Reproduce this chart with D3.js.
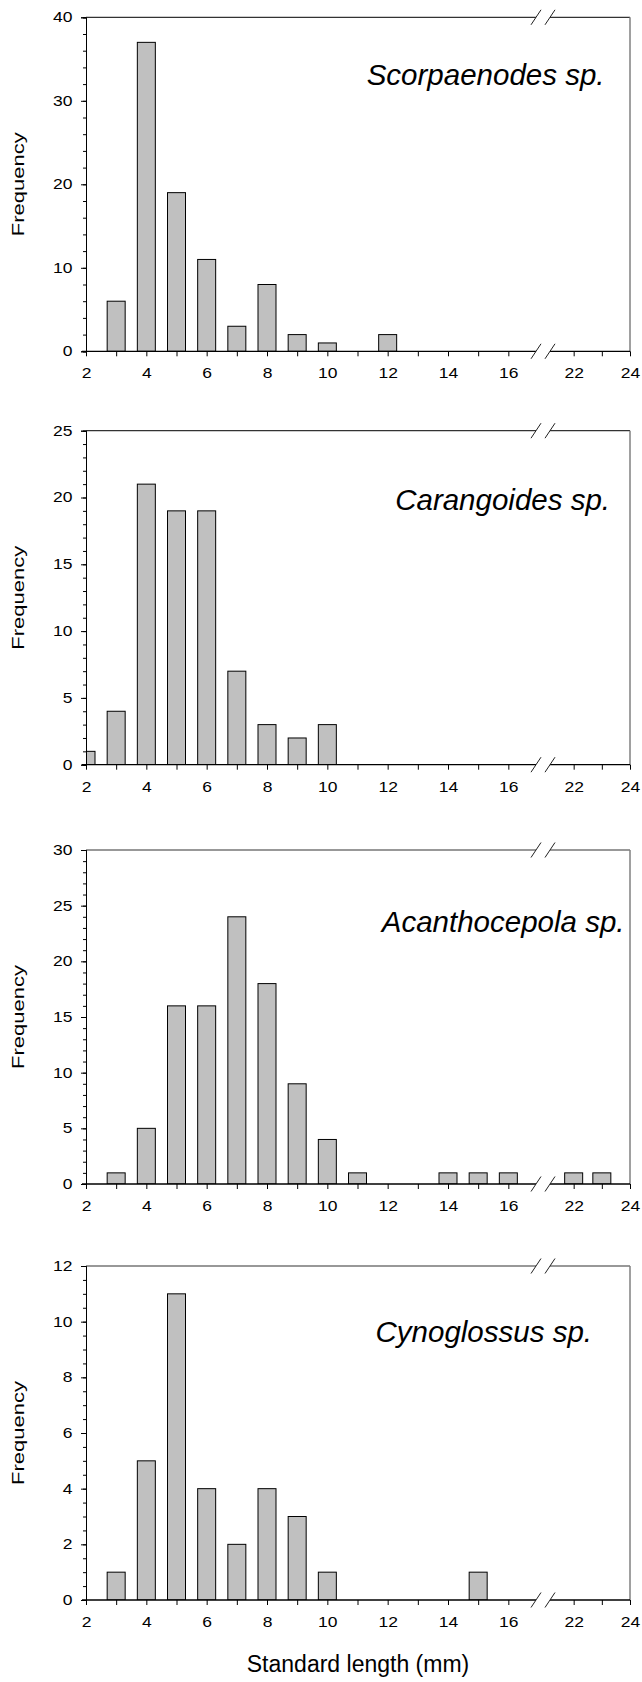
<!DOCTYPE html>
<html>
<head>
<meta charset="utf-8">
<script src="https://cdn.jsdelivr.net/npm/d3@7"></script>
<style>
  body { margin: 0; background: #fff; }
  svg { display: block; }
  text { font-family: "Liberation Sans", Arial, sans-serif; fill: #000; }
</style>
</head>
<body>
<svg id="chart" width="642" height="1682"></svg>
<script>
/* ---- data ---- */
const species = ["Scorpaenodes sp.", "Carangoides sp.", "Acanthocepola sp.", "Cynoglossus sp."];

const scorpLength = [3, 4, 5, 6, 7, 8, 9, 10, 12];
const scorpCount  = [6, 37, 19, 11, 3, 8, 2, 1, 2];

const caranLength = [2, 3, 4, 5, 6, 7, 8, 9, 10];
const caranCount  = [1, 4, 21, 19, 19, 7, 3, 2, 3];

const acanLength = [3, 4, 5, 6, 7, 8, 9, 10, 11, 14, 15, 16, 22, 23];
const acanCount  = [1, 5, 16, 16, 24, 18, 9, 4, 1, 1, 1, 1, 1, 1];

const cynoLength = [3, 4, 5, 6, 7, 8, 9, 10, 15];
const cynoCount  = [1, 5, 11, 4, 2, 4, 3, 1, 1];

const xMajorTicks = [2, 4, 6, 8, 10, 12, 14, 16, 22, 24];
const xMinorTicks = [3, 5, 7, 9, 11, 13, 15, 23];
const xBreak = [17, 21];

// y axis per panel: max, major step, minor step
const yMax   = [40, 25, 30, 12];
const yMajor = [10, 5, 5, 2];
const yMinor = [2, 1, 1, 0.5];

const lengths = [scorpLength, caranLength, acanLength, cynoLength];
const counts  = [scorpCount, caranCount, acanCount, cynoCount];

/* ---- layout ---- */
const panelTop = [17.3, 430.7, 850, 1266];
const panelH = 334;
const barW = 18;
// species label placement (right edge, baseline from panel top)
const labelRight = [604.5, 610, 624.5, 592];
const labelDy = [68, 79, 82, 76];
const tickStretch = 1.25;

const svg = d3.select("#chart");

// broken x axis: 2..17 then 21..24
const x = d3.scaleLinear()
    .domain([2, xBreak[0], xBreak[1], 24])
    .range([86, 538.5, 545.5, 630]);

const bx1 = x(xBreak[0]) - 2.5;
const bx2 = x(xBreak[1]) + 4.5;

function breakMarks(g, y) {
    [bx1, bx2].forEach(bx => {
        g.append("line")
            .attr("x1", bx - 5).attr("y1", y + 7.5)
            .attr("x2", bx + 5).attr("y2", y - 7.5)
            .attr("stroke", "#222").attr("stroke-width", 1);
    });
}

species.forEach((name, i) => {
    const g = svg.append("g").attr("transform", `translate(0,${panelTop[i]})`);
    const y = d3.scaleLinear().domain([0, yMax[i]]).range([panelH, 0]);
    const data = lengths[i].map((len, k) => ({ len, n: counts[i][k] }));

    const clipId = `clip${i}`;
    g.append("clipPath").attr("id", clipId)
        .append("rect")
        .attr("x", x(2)).attr("y", -2)
        .attr("width", x(24) - x(2)).attr("height", panelH + 2);

    // bars
    g.append("g").attr("clip-path", `url(#${clipId})`)
        .selectAll("rect")
        .data(data)
        .join("rect")
        .attr("x", d => x(d.len) - barW / 2)
        .attr("y", d => y(d.n))
        .attr("width", barW)
        .attr("height", d => panelH - y(d.n))
        .attr("fill", "#c0c0c0")
        .attr("stroke", "#000")
        .attr("stroke-width", 1);

    // top frame (with break) and right frame
    g.append("line").attr("x1", x(2)).attr("x2", bx1).attr("y1", 0).attr("y2", 0)
        .attr("stroke", "#333").attr("stroke-width", 1.2);
    g.append("line").attr("x1", bx2).attr("x2", x(24)).attr("y1", 0).attr("y2", 0)
        .attr("stroke", "#333").attr("stroke-width", 1.2);
    g.append("line").attr("x1", x(24)).attr("x2", x(24)).attr("y1", 0).attr("y2", panelH)
        .attr("stroke", "#808080").attr("stroke-width", 1.5);
    breakMarks(g, 0);

    // x axis
    const xAxis = g.append("g").attr("transform", `translate(0,${panelH})`);
    xAxis.call(d3.axisBottom(x).tickValues(xMajorTicks).tickSize(5).tickPadding(12).tickFormat(d3.format("d")));
    xAxis.append("g").call(d3.axisBottom(x).tickValues(xMinorTicks).tickSize(5).tickFormat(""));
    xAxis.selectAll(".domain").remove();
    xAxis.selectAll("line").attr("stroke", "#000");
    xAxis.selectAll("text")
        .attr("font-size", 14).attr("font-family", null)
        .attr("transform", `scale(${tickStretch},1)`);
    xAxis.append("line").attr("x1", x(2) - 4).attr("x2", bx1).attr("stroke", "#000").attr("stroke-width", 1.3);
    xAxis.append("line").attr("x1", bx2).attr("x2", x(24)).attr("stroke", "#000").attr("stroke-width", 1.3);
    breakMarks(xAxis, 0);

    // y axis
    const yAxis = g.append("g").attr("transform", `translate(${x(2)},0)`);
    yAxis.call(d3.axisLeft(y).tickValues(d3.range(0, yMax[i] + 0.001, yMajor[i])).tickSize(5).tickPadding(8));
    yAxis.append("g").call(d3.axisLeft(y).tickValues(d3.range(0, yMax[i] + 0.001, yMinor[i])).tickSize(3).tickFormat(""));
    yAxis.selectAll(".domain").attr("stroke", "#000");
    yAxis.selectAll("line").attr("stroke", "#000");
    yAxis.selectAll("text")
        .attr("font-size", 14).attr("font-family", null)
        .attr("x", 0)
        .attr("transform", `translate(-13.5,0) scale(${tickStretch},1)`);

    // y title
    g.append("text")
        .attr("transform", `translate(23.5,${panelH / 2}) rotate(-90) scale(1,0.72)`)
        .attr("text-anchor", "middle")
        .attr("font-size", 22)
        .text("Frequency");

    // species label
    g.append("text")
        .attr("x", labelRight[i])
        .attr("y", labelDy[i])
        .attr("text-anchor", "end")
        .attr("font-size", 29.5)
        .attr("font-style", "italic")
        .text(name);
});

svg.append("text")
    .attr("x", (x(2) + x(24)) / 2)
    .attr("y", 1672)
    .attr("text-anchor", "middle")
    .attr("font-size", 23)
    .text("Standard length (mm)");
</script>
</body>
</html>
